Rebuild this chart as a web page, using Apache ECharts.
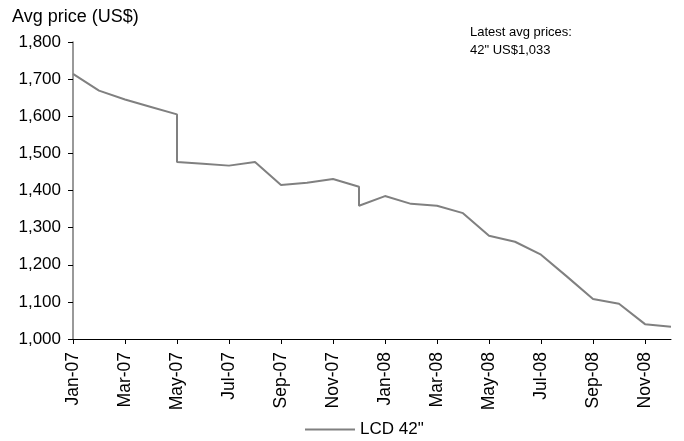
<!DOCTYPE html>
<html>
<head>
<meta charset="utf-8">
<script src="https://cdn.jsdelivr.net/npm/echarts@6/dist/echarts.min.js"></script>
<style>
  html, body { margin: 0; padding: 0; background: #fff; }
  #chart { width: 684px; height: 441px; }
</style>
</head>
<body>
<div id="chart"></div>
<script>
// Monthly average LCD 42" prices (US$). Two readings in one month show as a vertical step.
const periods = [
  '2007-01', '2007-02', '2007-03', '2007-04', '2007-05', '2007-05',
  '2007-06', '2007-07', '2007-08', '2007-09', '2007-10', '2007-11',
  '2007-12', '2007-12', '2008-01', '2008-02', '2008-03', '2008-04',
  '2008-05', '2008-06', '2008-07', '2008-08', '2008-09', '2008-10',
  '2008-11', '2008-12'
];
const prices = [
  1714, 1669, 1645, 1625, 1605, 1477,
  1472, 1467, 1477, 1415, 1421, 1431,
  1410, 1359, 1385, 1364, 1359, 1339,
  1278, 1262, 1227, 1168, 1108, 1095,
  1040, 1033
];
// Labels for every second month on the horizontal axis
const tickLabels = [
  'Jan-07', 'Mar-07', 'May-07', 'Jul-07', 'Sep-07', 'Nov-07',
  'Jan-08', 'Mar-08', 'May-08', 'Jul-08', 'Sep-08', 'Nov-08'
];
const seriesName = 'LCD 42"';
const latestNote = ['Latest avg prices:', '42" US$1,033'];

// Month offset from Jan-07
function monthIndex(p) {
  const [y, m] = p.split('-').map(Number);
  return (y - 2007) * 12 + (m - 1);
}
const points = periods.map((p, i) => [monthIndex(p), prices[i]]);

const font = '"Liberation Sans", Arial, sans-serif';
const chart = echarts.init(document.getElementById('chart'), null, { renderer: 'canvas' });

chart.setOption({
  animation: false,
  backgroundColor: '#ffffff',
  textStyle: { fontFamily: font, color: '#000' },
  title: [
    {
      text: 'Avg price (US$)',
      left: 12, top: 8, padding: 0,
      textStyle: { fontFamily: font, fontSize: 18, fontWeight: 'normal', color: '#000' }
    },
    {
      text: latestNote.join('\n'),
      left: 470, top: 23, padding: 0,
      textStyle: { fontFamily: font, fontSize: 13, fontWeight: 'normal', color: '#000', lineHeight: 18 }
    }
  ],
  grid: { left: 73, right: 13, top: 42, bottom: 102, containLabel: false, outerBoundsMode: 'none' },
  legend: {
    data: [seriesName],
    left: 305, top: 421, padding: 0,
    icon: 'rect', itemWidth: 50, itemHeight: 2,
    textStyle: { fontFamily: font, fontSize: 17, color: '#000' }
  },
  xAxis: {
    type: 'value',
    min: 0, max: 23, interval: 2,
    axisLine: { show: true, lineStyle: { color: '#000', width: 1 } },
    axisTick: { show: true, inside: false, length: 5, lineStyle: { color: '#000' } },
    splitLine: { show: false },
    axisLabel: {
      rotate: 90, margin: 13,
      fontFamily: font, fontSize: 17.5, color: '#000',
      showMaxLabel: false,
      formatter: v => tickLabels[v / 2] || ''
    }
  },
  yAxis: {
    type: 'value',
    min: 1000, max: 1800, interval: 100,
    axisLine: { show: true, lineStyle: { color: '#777', width: 1.5 } },
    axisTick: { show: true, inside: false, length: 5, lineStyle: { color: '#000' } },
    splitLine: { show: false },
    axisLabel: {
      margin: 12,
      fontFamily: font, fontSize: 17, color: '#000',
      formatter: v => v.toLocaleString('en-US')
    }
  },
  series: [{
    name: seriesName,
    type: 'line',
    data: points,
    showSymbol: false,
    symbol: 'none',
    lineStyle: { color: '#808080', width: 2 },
    itemStyle: { color: '#808080' }
  }]
});
</script>
</body>
</html>
